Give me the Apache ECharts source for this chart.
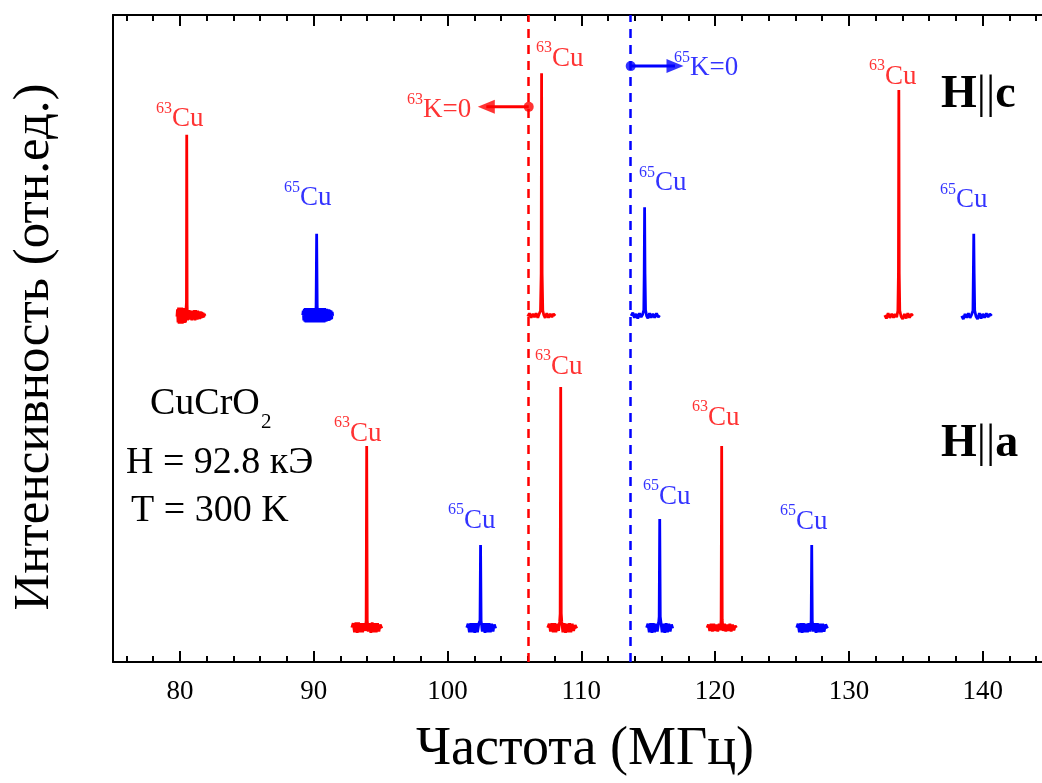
<!DOCTYPE html>
<html>
<head>
<meta charset="utf-8">
<script src="https://cdn.jsdelivr.net/npm/echarts@6/dist/echarts.min.js"></script>
<style>
html,body{margin:0;padding:0;background:#fff;}
#chart{width:1042px;height:783px;}
</style>
</head>
<body>
<div id="chart"></div>
<script>
// ---------- data ----------
const majorTicks = [80, 90, 100, 110, 120, 130, 140];
const minorTicks = [76, 78, 82, 84, 86, 88, 92, 94, 96, 98, 102, 104, 106, 108, 112, 114, 116, 118, 122, 124, 126, 128, 132, 134, 136, 138, 142, 144];
const xMin = 75, xMax = 144.43;   // visible frequency window (MHz)

// H||c spectra (frequency MHz, intensity arb.)
const hc63_80 = [[79.78,53.4],[79.82,54.5],[79.86,52.5],[79.9,54.8],[79.94,52.3],[79.98,54.8],[80.02,52.3],[80.06,54.8],[80.1,52.3],[80.14,54.8],[80.18,52.3],[80.22,54.7],[80.26,52.4],[80.3,54.7],[80.34,52.4],[80.38,54.6],[80.42,52.5],[80.46,54.6],[80.49,55.5],[80.51,81.5],[80.54,55.2],[80.57,52.8],[80.61,54.4],[80.65,52.9],[80.69,54.4],[80.73,52.9],[80.77,54.3],[80.81,52.9],[80.85,54.3],[80.89,52.8],[80.93,54.2],[80.97,52.9],[81.01,54.3],[81.05,52.9],[81.09,54.4],[81.13,52.8],[81.17,54.4],[81.21,52.9],[81.25,54.3],[81.29,52.9],[81.33,54.3],[81.38,53.0],[81.43,54.2],[81.48,53.0],[81.53,54.2],[81.58,53.1],[81.63,54.1],[81.68,53.2],[81.73,54.0],[81.78,53.3],[81.83,53.8],[81.87,53.5]];
const hc65_90 = [[89.18,53.6],[89.22,54.3],[89.26,52.8],[89.3,54.6],[89.34,52.6],[89.38,54.7],[89.42,52.5],[89.46,54.7],[89.5,52.5],[89.54,54.7],[89.58,52.5],[89.62,54.7],[89.66,52.5],[89.7,54.7],[89.74,52.5],[89.78,54.7],[89.82,52.5],[89.86,54.7],[89.9,52.5],[89.94,54.7],[89.98,52.5],[90.02,54.7],[90.06,52.5],[90.1,54.7],[90.14,52.5],[90.18,55.2],[90.22,66.2],[90.26,55.2],[90.3,52.5],[90.34,54.7],[90.38,52.5],[90.42,54.7],[90.46,52.5],[90.5,54.7],[90.54,52.5],[90.58,54.7],[90.62,52.5],[90.66,54.7],[90.7,52.5],[90.74,54.7],[90.78,52.5],[90.82,54.7],[90.86,52.6],[90.9,54.6],[90.94,52.6],[90.98,54.6],[91.02,52.7],[91.06,54.5],[91.1,52.7],[91.14,54.5],[91.18,52.8],[91.22,54.4],[91.26,52.9],[91.3,54.3],[91.34,53.0],[91.38,54.1],[91.42,53.5]];
const hc63_107 = [[106.0,53.4],[106.12,53.9],[106.25,53.2],[106.38,53.8],[106.5,53.3],[106.62,53.9],[106.75,53.2],[106.85,53.8],[106.95,54.3],[107.0,60.0],[107.03,91.0],[107.07,60.0],[107.12,54.3],[107.2,53.6],[107.3,53.2],[107.42,53.9],[107.55,53.2],[107.68,53.8],[107.8,53.3],[107.92,53.8],[108.05,53.5]];
const hc65_115 = [[113.72,53.5],[113.85,54.0],[113.97,53.2],[114.1,53.8],[114.22,53.1],[114.35,53.9],[114.47,53.3],[114.58,53.7],[114.67,54.4],[114.7,60.0],[114.73,70.3],[114.76,60.0],[114.8,54.4],[114.88,53.5],[114.98,53.1],[115.1,53.9],[115.22,53.2],[115.35,53.8],[115.48,53.2],[115.62,53.9],[115.75,53.3],[115.85,53.6]];
const hc63_134 = [[132.68,53.6],[132.8,53.1],[132.93,53.9],[133.06,53.2],[133.2,53.8],[133.33,53.2],[133.45,53.8],[133.57,53.3],[133.66,54.3],[133.7,60.0],[133.73,88.4],[133.76,60.0],[133.8,54.3],[133.9,53.4],[134.02,53.0],[134.15,53.8],[134.28,53.1],[134.4,53.9],[134.53,53.2],[134.65,53.8],[134.78,53.5]];
const hc65_139 = [[138.43,53.5],[138.55,53.0],[138.68,53.8],[138.8,53.2],[138.93,53.9],[139.05,53.2],[139.17,53.7],[139.27,54.3],[139.3,60.0],[139.33,66.2],[139.36,60.0],[139.4,54.3],[139.5,53.4],[139.62,53.0],[139.75,53.9],[139.88,53.1],[140.0,53.8],[140.13,53.2],[140.27,53.9],[140.4,53.3],[140.53,53.8],[140.67,53.5]];

// H||a spectra
const ha63_94 = [[92.85,5.3],[92.95,6.0],[93.05,4.6],[93.15,6.1],[93.25,4.5],[93.35,6.1],[93.45,4.6],[93.55,6.0],[93.65,4.6],[93.75,6.0],[93.85,4.8],[93.92,6.4],[93.96,33.4],[94.0,6.4],[94.07,4.7],[94.17,6.0],[94.27,4.5],[94.37,6.1],[94.47,4.6],[94.57,6.0],[94.67,4.6],[94.77,6.0],[94.87,4.7],[94.97,5.8],[95.09,5.2]];
const ha65_102 = [[101.44,5.3],[101.54,5.9],[101.64,4.6],[101.74,6.0],[101.84,4.6],[101.94,6.0],[102.04,4.5],[102.14,6.0],[102.24,4.6],[102.34,5.9],[102.43,6.4],[102.47,18.1],[102.51,6.4],[102.6,4.7],[102.7,6.0],[102.8,4.5],[102.9,6.0],[103.0,4.6],[103.1,6.0],[103.2,4.6],[103.3,5.9],[103.4,4.7],[103.5,5.8],[103.6,5.2]];
const ha63_108 = [[107.49,5.3],[107.6,5.9],[107.7,4.7],[107.8,6.0],[107.9,4.6],[108.0,6.0],[108.1,4.6],[108.2,5.9],[108.3,4.8],[108.38,6.2],[108.42,7.5],[108.46,42.5],[108.5,7.5],[108.54,6.2],[108.62,4.6],[108.72,6.0],[108.82,4.5],[108.92,5.9],[109.02,4.6],[109.12,6.0],[109.22,4.6],[109.32,5.9],[109.42,4.8],[109.54,5.7],[109.66,5.2]];
const ha65_116 = [[114.88,5.3],[114.98,5.9],[115.08,4.6],[115.18,6.0],[115.28,4.5],[115.38,6.0],[115.48,4.6],[115.58,5.9],[115.68,4.7],[115.78,6.1],[115.82,7.0],[115.86,22.1],[115.9,7.0],[115.96,6.0],[116.04,4.6],[116.14,5.9],[116.24,4.5],[116.34,6.0],[116.44,4.6],[116.54,5.9],[116.64,4.7],[116.74,5.8],[116.83,5.2]];
const ha63_120 = [[119.4,5.3],[119.5,5.8],[119.6,4.8],[119.7,5.9],[119.8,4.7],[119.9,5.9],[120.0,4.8],[120.1,5.8],[120.2,4.7],[120.3,5.9],[120.4,4.9],[120.45,6.5],[120.49,33.4],[120.53,6.5],[120.6,4.8],[120.7,5.9],[120.8,4.7],[120.9,5.8],[121.0,4.8],[121.1,5.9],[121.2,4.7],[121.3,5.8],[121.4,4.9],[121.5,5.6],[121.6,5.3]];
const ha65_127 = [[126.1,5.3],[126.2,5.9],[126.3,4.6],[126.4,6.0],[126.5,4.5],[126.6,6.0],[126.7,4.6],[126.8,5.9],[126.9,4.6],[127.0,6.0],[127.1,4.7],[127.18,6.4],[127.22,18.1],[127.26,6.4],[127.34,4.7],[127.44,6.0],[127.54,4.5],[127.64,6.0],[127.74,4.6],[127.84,5.9],[127.94,4.6],[128.04,5.9],[128.14,4.7],[128.26,5.8],[128.4,5.2]];

const redPeaks = [hc63_80, hc63_107, hc63_134, ha63_94, ha63_108, ha63_120];
const bluePeaks = [hc65_90, hc65_115, hc65_139, ha65_102, ha65_116, ha65_127];

// isotope labels: [frequency, intensity] anchor (bottom centre)
const labels63 = [[79.98,82.1],[108.38,91.5],[133.27,88.7],[93.29,33.5],[108.31,43.9],[120.04,36.0]];
const labels65 = [[89.55,69.9],[116.08,72.2],[138.58,69.6],[101.81,20.1],[116.38,23.8],[126.62,19.9]];

// K=0 reference frequencies
const k63 = 106.07;
const k65 = 113.69;
const k63Arrow = [[106.07,85.8],[102.9,85.8]];
const k65Arrow = [[113.69,92.1],[117.0,92.1]];
const k63Label = [99.38,83.5];
const k65Label = [119.33,90.0];

// ---------- chart ----------
const RED = '#ff0000', BLUE = '#0000ff';
const FONT = '"Liberation Serif","Times New Roman",serif';
const chart = echarts.init(document.getElementById('chart'), null, {renderer: 'canvas'});

const axisBase = {
  type: 'value', min: xMin, max: xMax, gridIndex: 0,
  splitLine: {show: false}, minorTick: {show: false}, minorSplitLine: {show: false}
};
const xAxes = [
  Object.assign({}, axisBase, {
    position: 'bottom',
    axisLine: {show: true, onZero: false, lineStyle: {color: '#000', width: 2}},
    axisTick: {show: true, inside: true, length: 11, lineStyle: {color: '#000', width: 2}, customValues: majorTicks},
    axisLabel: {show: true, margin: 16, color: '#000', fontFamily: FONT, fontSize: 27, customValues: majorTicks}
  }),
  Object.assign({}, axisBase, {
    position: 'bottom',
    axisLine: {show: false, onZero: false},
    axisTick: {show: true, inside: true, length: 6, lineStyle: {color: '#000', width: 2}, customValues: minorTicks},
    axisLabel: {show: false}
  }),
  Object.assign({}, axisBase, {
    position: 'top',
    axisLine: {show: true, onZero: false, lineStyle: {color: '#000', width: 2}},
    axisTick: {show: true, inside: true, length: 11, lineStyle: {color: '#000', width: 2}, customValues: majorTicks},
    axisLabel: {show: false}
  }),
  Object.assign({}, axisBase, {
    position: 'top',
    axisLine: {show: false, onZero: false},
    axisTick: {show: true, inside: true, length: 6, lineStyle: {color: '#000', width: 2}, customValues: minorTicks},
    axisLabel: {show: false}
  })
];

const series = [];
redPeaks.forEach(d => series.push({
  type: 'line', data: d, xAxisIndex: 0, showSymbol: false, symbol: 'none', silent: true,
  lineStyle: {color: RED, width: 2.8}, z: 3
}));
bluePeaks.forEach(d => series.push({
  type: 'line', data: d, xAxisIndex: 0, showSymbol: false, symbol: 'none', silent: true,
  lineStyle: {color: BLUE, width: 2.8}, z: 3
}));

const richFor = (color) => ({
  sup: {fontFamily: FONT, fontSize: 16, color: color, verticalAlign: 'top', lineHeight: 12},
  m: {fontFamily: FONT, fontSize: 27, color: color, verticalAlign: 'bottom', lineHeight: 32}
});
function labelSeries(points, num, color) {
  return {
    type: 'scatter', data: points, symbolSize: 0, silent: true, z: 5,
    label: {show: true, position: 'top', distance: -2,
      formatter: '{sup|' + num + '}{m|Cu}', rich: richFor(color)}
  };
}
series.push(labelSeries(labels63, '63', RED));
series.push(labelSeries(labels65, '65', BLUE));

// K=0 labels
series.push({
  type: 'scatter', data: [k63Label], symbolSize: 0, silent: true, z: 5,
  label: {show: true, position: 'top', distance: -2, formatter: '{sup|63}{m|K=0}', rich: richFor(RED)}
});
series.push({
  type: 'scatter', data: [k65Label], symbolSize: 0, silent: true, z: 5,
  label: {show: true, position: 'top', distance: -2, formatter: '{sup|65}{m|K=0}', rich: richFor(BLUE)}
});

// dashed K=0 lines and arrows
series.push({
  type: 'line', data: k63Arrow, symbol: 'none', silent: true, z: 4,
  lineStyle: {color: RED, width: 3},
  markLine: {
    silent: true, symbol: 'none', animation: false, label: {show: false},
    lineStyle: {color: RED, width: 2.5, type: [9, 7]},
    data: [{xAxis: k63}]
  }
});
series.push({
  type: 'line', data: k65Arrow, symbol: 'none', silent: true, z: 4,
  lineStyle: {color: BLUE, width: 3},
  markLine: {
    silent: true, symbol: 'none', animation: false, label: {show: false},
    lineStyle: {color: BLUE, width: 2.5, type: [9, 7]},
    data: [{xAxis: k65}]
  }
});
// dots and arrow heads
series.push({
  type: 'scatter', silent: true, z: 6, symbol: 'circle', symbolSize: 10,
  itemStyle: {color: RED}, data: [k63Arrow[0]]
});
series.push({
  type: 'scatter', silent: true, z: 6, symbol: 'circle', symbolSize: 10,
  itemStyle: {color: BLUE}, data: [k65Arrow[0]]
});
series.push({
  type: 'scatter', silent: true, z: 6, symbol: 'triangle', symbolSize: [14, 17], symbolRotate: 90,
  itemStyle: {color: RED}, data: [k63Arrow[1]]
});
series.push({
  type: 'scatter', silent: true, z: 6, symbol: 'triangle', symbolSize: [14, 17], symbolRotate: -90,
  itemStyle: {color: BLUE}, data: [k65Arrow[1]]
});

const option = {
  animation: false,
  backgroundColor: '#fff',
  grid: {left: 113, top: 15, right: 0, bottom: 121, containLabel: false, outerBoundsMode: 'none'},
  xAxis: xAxes,
  yAxis: {
    type: 'value', min: 0, max: 100,
    axisLine: {show: true, lineStyle: {color: '#000', width: 2}},
    axisTick: {show: false}, axisLabel: {show: false}, splitLine: {show: false}
  },
  series: series,
  graphic: [
    {type: 'text', left: 150, top: 385, style: {text: 'CuCrO', font: '38px ' + FONT, fill: '#000'}},
    {type: 'text', left: 261, top: 412, style: {text: '2', font: '21px ' + FONT, fill: '#000'}},
    {type: 'text', left: 126, top: 444, style: {text: 'H = 92.8 кЭ', font: '38px ' + FONT, fill: '#000'}},
    {type: 'text', left: 131, top: 492, style: {text: 'T = 300 K', font: '38px ' + FONT, fill: '#000'}},
    {type: 'text', left: 941, top: 72, style: {
      text: '{b|H}{n|||}{b|c}', fill: '#000',
      rich: {b: {font: 'bold 46px ' + FONT, fill: '#000'}, n: {font: '46px ' + FONT, fill: '#000'}}}},
    {type: 'text', left: 941, top: 421, style: {
      text: '{b|H}{n|||}{b|a}', fill: '#000',
      rich: {b: {font: 'bold 46px ' + FONT, fill: '#000'}, n: {font: '46px ' + FONT, fill: '#000'}}}},
    {type: 'text', x: 585, y: 750, style: {text: 'Частота (МГц)', font: '54px ' + FONT, fill: '#000', align: 'center', verticalAlign: 'middle'}},
    {type: 'text', x: 35, y: 347, rotation: Math.PI / 2, style: {text: 'Интенсивность (отн.ед.)', font: '51px ' + FONT, fill: '#000', align: 'center', verticalAlign: 'middle'}}
  ]
};
chart.setOption(option);
</script>
</body>
</html>
